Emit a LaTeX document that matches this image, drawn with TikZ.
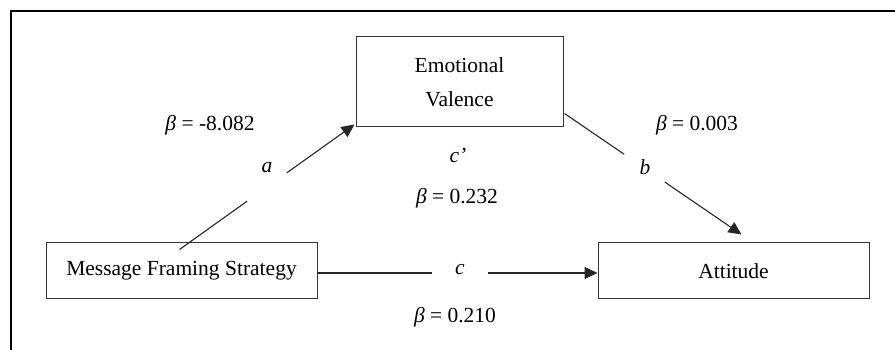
\documentclass[tikz,border=0pt]{standalone}
\usepackage{fontspec}
\setmainfont{Liberation Serif}
\usetikzlibrary{arrows.meta,calc}
\begin{document}
\begin{tikzpicture}[x=1pt,y=1pt,
  box/.style={draw=black!80,line width=1pt,fill=white,inner sep=0pt,align=center,
    font=\fontsize{21.5}{34}\selectfont,text=black},
  lbl/.style={inner sep=0pt,font=\fontsize{21.5}{26}\selectfont,text=black},
  conn/.style={line width=1.1pt,draw=black!85},
  tip/.style={-{Triangle[length=13pt,width=12pt]}}]
\useasboundingbox (0,0) rectangle (895,350);
\fill[white] (0,0) rectangle (895,350);
% frame
\coordinate (ftl) at (11,339);
\coordinate (ftr) at (895,339);
\coordinate (fbl) at (11,0);
\draw[line width=2.2pt] (fbl) -- (ftl) -- (ftr);
% nodes
\node[box,minimum width=271pt,minimum height=56pt] (mfs) at (181.5,79) {Message Framing Strategy};
\node[box,minimum width=271pt,minimum height=56pt] (att) at (733.5,79) {Attitude};
\node[box,minimum width=207pt,minimum height=90pt] (ev) at (459.5,268) {Emotional\\Valence};
% path a
\coordinate (a0) at ($(mfs.north)+(-2,-7)$);
\coordinate (a1) at ($(ev.south west)+(-1,3)$);
\draw[conn] (a0) -- ($(a0)!0.386!(a1)$);
\draw[conn,tip] ($(a0)!0.614!(a1)$) -- (a1);
\node[lbl] (la) at (267,182) {\textit{a}};
% path b
\coordinate (b0) at ($(ev.south east)+(1,14)$);
\coordinate (b1) at ($(att.north)+(8,8)$);
\draw[conn] (b0) -- ($(b0)!0.337!(b1)$);
\draw[conn,tip] ($(b0)!0.567!(b1)$) -- (b1);
\node[lbl] (lb) at (645,183) {\textit{b}};
% path c
\draw[conn] ($(mfs.east)+(0,-2)$) -- ($(mfs.east)!0.409!(att.west)+(0,-2)$);
\draw[conn,tip] ($(mfs.east)!0.609!(att.west)+(0,-2)$) -- ($(att.west)+(0,-2)$);
\node[lbl] (lc) at (460,80) {\textit{c}};
% labels
\node[lbl] (ba) at (210,225) {\textit{β} = -8.082};
\node[lbl] (lcp) at (458,195) {\textit{c’}};
\node[lbl] (bcp) at (457,152) {\textit{β} = 0.232};
\node[lbl] (bb) at (697,225) {\textit{β} = 0.003};
\node[lbl] (bc) at (455,33) {\textit{β} = 0.210};
\end{tikzpicture}
\end{document}
